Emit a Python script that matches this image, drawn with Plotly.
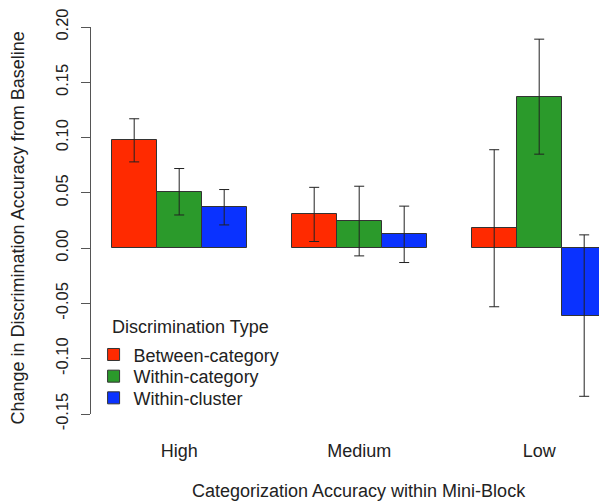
import plotly.graph_objects as go

categories = ["High", "Medium", "Low"]
series_names = ["Between-category", "Within-category", "Within-cluster"]
colors = ["#FF2A00", "#2B9A2B", "#0A32FF"]

between = [0.098, 0.031, 0.018]
within_cat = [0.051, 0.025, 0.137]
within_clu = [0.037, 0.013, -0.061]

between_hi = [0.117, 0.055, 0.089]
between_lo = [0.078, 0.006, -0.053]
within_cat_hi = [0.072, 0.056, 0.189]
within_cat_lo = [0.030, -0.007, 0.085]
within_clu_hi = [0.053, 0.038, 0.012]
within_clu_lo = [0.021, -0.013, -0.134]

y_ticks = [-0.15, -0.10, -0.05, 0.00, 0.05, 0.10, 0.15, 0.20]

series = [
    (between, between_hi, between_lo),
    (within_cat, within_cat_hi, within_cat_lo),
    (within_clu, within_clu_hi, within_clu_lo),
]

FONT = "Liberation Sans, Arial, sans-serif"
TXT = 18
legend_ids = ["legend", "legend2", "legend3"]
legend_y = [0.153, 0.097, 0.041]

fig = go.Figure()
for i, (vals, hi, lo) in enumerate(series):
    xs = [1.5 + 4 * g + i for g in range(len(categories))]
    fig.add_trace(go.Bar(
        x=xs, y=vals, width=1, name=series_names[i], legend=legend_ids[i],
        marker=dict(color=colors[i], line=dict(color="#333333", width=1)),
        error_y=dict(type="data", symmetric=False,
                     array=[h - v for h, v in zip(hi, vals)],
                     arrayminus=[v - l for v, l in zip(vals, lo)],
                     color="#222222", thickness=1, width=5),
    ))

legend_common = dict(x=0.005, xanchor="left", yanchor="middle",
                     bgcolor="rgba(0,0,0,0)", font=dict(size=TXT))

fig.update_layout(
    width=599, height=495,
    margin=dict(l=83, r=0, t=14, b=89),
    paper_bgcolor="white", plot_bgcolor="white",
    font=dict(family=FONT, size=TXT, color="#222222"),
    showlegend=True, bargap=0,
    legend=dict(y=legend_y[0], **legend_common),
    legend2=dict(y=legend_y[1], **legend_common),
    legend3=dict(y=legend_y[2], **legend_common),
    xaxis=dict(
        range=[0.54, 12.007], tickvals=[2.5, 6.5, 10.5], ticktext=categories,
        showline=False, showgrid=False, zeroline=False, ticks="",
        ticklabelstandoff=24, tickfont=dict(size=TXT),
    ),
    yaxis=dict(
        range=[-0.15, 0.20], tickvals=y_ticks,
        ticktext=["%.2f" % t for t in y_ticks],
        showline=True, linecolor="#555555", linewidth=1,
        ticks="outside", ticklen=9, tickcolor="#555555",
        showgrid=False, zeroline=False, tickangle=-90,
        ticklabelstandoff=6, ticklabeloverflow="allow",
        tickfont=dict(size=16.5),
    ),
    annotations=[
        dict(text="Discrimination Type", xref="paper", yref="paper",
             x=(110 - 91) / 516, y=0.2245, xanchor="left", yanchor="middle",
             showarrow=False, font=dict(size=TXT)),
        dict(text="Categorization Accuracy within Mini-Block", xref="x", yref="paper",
             x=6.5, y=-0.199, xanchor="center", yanchor="middle", showarrow=False,
             font=dict(size=TXT)),
        dict(text="Change in Discrimination Accuracy from Baseline", xref="paper", yref="y",
             x=(18 - 91) / 516, y=0.0178, xanchor="center", yanchor="middle",
             showarrow=False, textangle=-90, font=dict(size=TXT)),
    ],
)

fig.write_html("out.html")
